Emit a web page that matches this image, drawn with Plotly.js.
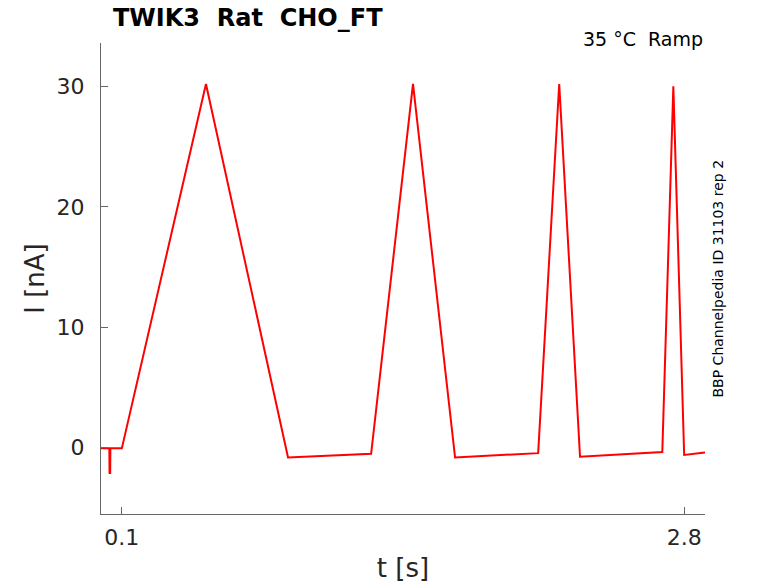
<!DOCTYPE html>
<html><head><meta charset="utf-8">
<script src="https://cdn.plot.ly/plotly-3.0.1.min.js"></script>
<style>body{margin:0;}#chart{width:778px;height:583px;}</style>
</head><body><div id="chart"></div>
<script>
const timeS = [0, 0.040, 0.041, 0.044, 0.045, 0.1, 0.504, 0.898, 1.297, 1.498, 1.700, 2.099, 2.200, 2.300, 2.695, 2.748, 2.800, 2.900];
const currentNA = [-0.05, -0.05, -2.1, -2.1, -0.05, -0.05, 30.2, -0.8, -0.5, 30.2, -0.8, -0.45, 30.2, -0.75, -0.35, 30.0, -0.6, -0.4];
const xTicks = [0.1, 2.8];
const xTickLabels = ['0.1', '2.8'];
const yTicks = [0, 10, 20, 30];

const font = 'DejaVu Sans, sans-serif';
Plotly.newPlot('chart', [{
  x: timeS, y: currentNA, type: 'scatter', mode: 'lines',
  line: {color: '#ff0000', width: 2}, hoverinfo: 'skip'
}], {
  width: 778, height: 583,
  margin: {l: 101, r: 73, t: 43, b: 69},
  paper_bgcolor: '#fff', plot_bgcolor: '#fff',
  showlegend: false,
  font: {family: font, color: '#262626'},
  title: {text: '<b>TWIK3  Rat  CHO_FT</b>', font: {size: 24, color: '#000'}, x: 113/778, xanchor: 'left', y: 1-18/583, yanchor: 'middle'},
  xaxis: {
    range: [0, 2.9], tickvals: xTicks, ticktext: xTickLabels,
    ticks: 'inside', ticklen: 7, tickcolor: '#666', tickfont: {size: 22, color: '#262626'},
    ticklabelstandoff: 4,
    showline: true, linecolor: '#666', linewidth: 1, showgrid: false, zeroline: false, mirror: false,
    title: {text: 't [s]', font: {size: 26, color: '#262626'}, standoff: 12}
  },
  yaxis: {
    range: [-5.5, 33.6], tickvals: yTicks,
    ticks: 'inside', ticklen: 7, tickcolor: '#666', tickfont: {size: 22, color: '#262626'},
    ticklabelstandoff: 11,
    showline: true, linecolor: '#666', linewidth: 1, showgrid: false, zeroline: false,
    title: {text: 'I [nA]', font: {size: 26, color: '#262626'}, standoff: 4}
  },
  annotations: [
    {text: '35 °C  Ramp', xref: 'paper', yref: 'paper', x: 1, y: 1, xanchor: 'right', yanchor: 'bottom', yshift: -9, showarrow: false, font: {size: 19, color: '#000'}},
    {text: 'BBP Channelpedia ID 31103 rep 2', xref: 'paper', yref: 'paper', x: 1, y: 0.5, xanchor: 'left', yanchor: 'middle', xshift: 2, textangle: -90, showarrow: false, font: {size: 14, color: '#000'}}
  ]
}, {displayModeBar: false, staticPlot: true});
</script></body></html>
